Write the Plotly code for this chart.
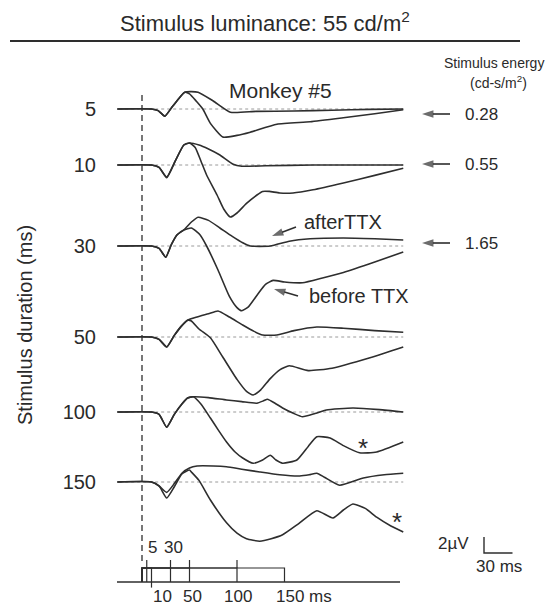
import plotly.graph_objects as go

# ---------------- data ----------------
DURATIONS_MS = [5, 10, 30, 50, 100, 150]
ENERGY_LABELS = ["0.28", "0.55", "1.65"]   # cd-s/m2 for 5, 10, 30 ms

# row 5 ms
T5_AFTER = [-26, 10, 17, 24, 32, 45, 59, 75, 93, 120, 160, 200, 240, 275]
V5_AFTER = [0, 0, -0.2, -0.9, 0.3, 2.1, 2.1, 1.0, -0.4, -0.3, -0.25, -0.15, -0.05, 0]
T5_BEFORE = [-26, 10, 17, 24, 32, 45, 50, 57, 64, 72, 85, 100, 114, 142, 177, 212, 245, 275]
V5_BEFORE = [0, 0, -0.2, -0.9, 0.3, 2.1, 1.9, 1.0, 0.0, -1.8, -3.5, -3.3, -2.9, -1.9, -1.6, -1.1, -0.6, -0.1]

# row 10 ms
T10_AFTER = [-26, 10, 18, 26, 35, 44, 50, 60, 70, 82, 96, 105, 130, 180, 230, 275]
V10_AFTER = [0, 0, -0.3, -1.5, 0.5, 2.5, 2.75, 2.5, 2.0, 1.25, 0.1, -0.15, -0.1, 0, 0, 0]
T10_BEFORE = [-26, 10, 18, 26, 35, 44, 50, 56, 62, 68, 79, 86, 93, 100, 110, 121, 127, 134, 145, 159, 180, 212, 245, 275]
V10_BEFORE = [0, 0, -0.3, -1.6, 0.5, 2.5, 2.75, 2.2, 0.5, -1.25, -3.75, -5.5, -6.5, -6.0, -4.8, -3.75, -3.3, -3.3, -3.5, -3.5, -3.1, -2.25, -1.3, -0.4]

# row 30 ms
T30_AFTER = [-26, 10, 18, 25, 31, 37, 44, 52, 59, 70, 82, 95, 106, 114, 135, 155, 177, 212, 245, 275]
V30_AFTER = [0, 0, -0.3, -1.4, 0.2, 1.4, 2.0, 3.0, 3.6, 3.2, 2.25, 1.2, 0.4, 0, 0, 0.6, 0.9, 1.0, 0.9, 0.75]
T30_BEFORE = [-26, 10, 18, 25, 31, 37, 44, 52, 61, 68, 80, 92, 100, 105, 112, 122, 130, 138, 150, 169, 190, 212, 245, 275]
V30_BEFORE = [0, 0, -0.3, -1.4, 0.2, 1.4, 2.0, 2.25, 1.4, 0, -3.0, -6.3, -7.7, -8.1, -7.6, -6.0, -4.8, -4.3, -4.5, -4.6, -4.0, -3.3, -2.0, -0.75]

# row 50 ms
T50_AFTER = [-26, 10, 18, 26, 34, 41, 48, 58, 70, 80, 92, 106, 118, 127, 142, 160, 184, 212, 245, 275]
V50_AFTER = [0, 0, -0.3, -1.25, 0.2, 1.3, 2.1, 2.5, 2.9, 3.25, 2.5, 1.5, 0.7, 0.25, 0.25, 0.8, 1.25, 1.1, 0.8, 0.6]
T50_BEFORE = [-26, 10, 18, 26, 34, 41, 48, 52, 60, 72, 85, 100, 110, 117, 125, 135, 145, 155, 175, 200, 240, 275]
V50_BEFORE = [0, 0, -0.3, -1.25, 0.2, 1.3, 2.1, 2.0, 1.0, -0.1, -2.5, -5.3, -6.8, -7.25, -6.6, -5.2, -4.1, -3.6, -4.2, -3.9, -2.6, -1.25]

# row 100 ms
T100_AFTER = [-26, 10, 18, 26, 34, 42, 48, 54, 70, 89, 105, 121, 128, 132, 140, 148, 160, 169, 182, 194, 222, 250, 275]
V100_AFTER = [0, 0, -0.3, -1.9, -0.3, 1.0, 1.75, 1.9, 1.8, 1.5, 1.3, 1.1, 1.4, 1.6, 1.1, 0.5, -0.2, -0.6, -0.2, 0.25, 0.5, 0.3, 0]
T100_BEFORE = [-26, 10, 18, 26, 34, 42, 48, 54, 62, 72, 80, 89, 98, 106, 117, 127, 135, 141, 148, 163, 175, 184, 198, 212, 229, 247, 275]
V100_BEFORE = [0, 0, -0.3, -1.9, -0.3, 1.0, 1.75, 1.9, 1.0, -0.75, -2.2, -3.75, -5.0, -5.75, -6.4, -6.0, -5.4, -6.0, -6.4, -6.0, -4.3, -3.1, -3.25, -4.2, -5.1, -5.0, -3.75]

# row 150 ms
T150_AFTER = [-26, 10, 18, 26, 34, 42, 50, 58, 75, 89, 105, 124, 145, 166, 176, 184, 192, 208, 233, 255, 275]
V150_AFTER = [0, 0, -0.5, -1.3, -0.2, 1.1, 1.75, 2.0, 2.0, 1.9, 1.6, 1.25, 0.9, 0.75, 0.9, 1.1, 0.6, -0.4, 0.5, 0.9, 1.1]
T150_BEFORE = [-26, 10, 18, 26, 34, 42, 50, 52, 60, 72, 89, 100, 110, 124, 136, 148, 165, 184, 201, 212, 222, 235, 247, 262, 275]
V150_BEFORE = [0, 0, -0.5, -2.0, -0.6, 1.0, 1.5, 1.25, 0.2, -2.25, -5.1, -6.4, -7.1, -7.4, -7.1, -6.6, -5.2, -3.6, -4.5, -3.5, -2.75, -3.3, -4.4, -5.5, -6.25]

SCALE_UV = 2
SCALE_MS = 30

# ---------------- layout geometry ----------------
W, H = 547, 607
PX_PER_MS = 0.95
PX_PER_UV = 8.0
ONSET_PX = 142
AXIS_LEFT_PX = 117
ROW_BASE_PX = [109, 165, 246, 337, 412, 482]
STIM_BASE_PX, STIM_TOP_PX = 582, 568

FONT = "Liberation Sans, Arial, sans-serif"
INK = "#2e2e2e"
TXT = "#2a2a2a"


def uv_at(py):
    return -py / PX_PER_UV


def ms_at(px):
    return (px - ONSET_PX) / PX_PER_MS


def P(px, py):
    return px / W, 1 - py / H


offsets = [uv_at(p) for p in ROW_BASE_PX]
rows = [
    (T5_AFTER, V5_AFTER, T5_BEFORE, V5_BEFORE),
    (T10_AFTER, V10_AFTER, T10_BEFORE, V10_BEFORE),
    (T30_AFTER, V30_AFTER, T30_BEFORE, V30_BEFORE),
    (T50_AFTER, V50_AFTER, T50_BEFORE, V50_BEFORE),
    (T100_AFTER, V100_AFTER, T100_BEFORE, V100_BEFORE),
    (T150_AFTER, V150_AFTER, T150_BEFORE, V150_BEFORE),
]

fig = go.Figure()


def line(x, y, width=1.2, dash=None, color=INK, **kw):
    fig.add_trace(go.Scatter(x=x, y=y, mode="lines",
                             line=dict(color=color, width=width, dash=dash, **kw),
                             hoverinfo="skip", showlegend=False))


# dotted baselines
for off in offsets:
    line([-24, 275], [off, off], width=1, dash="dot", color="#9a9a9a")

# ERG traces (after TTX and before TTX)
for off, (ta, va, tb, vb) in zip(offsets, rows):
    for t, v in ((ta, va), (tb, vb)):
        line(t, [off + a for a in v], width=1.6, shape="spline", smoothing=0.5)

# stimulus onset dashed line
line([0, 0], [uv_at(95), uv_at(565)], width=1.3, dash="6px,4px")

# stimulus timing diagram
sb, st = uv_at(STIM_BASE_PX), uv_at(STIM_TOP_PX)
line([ms_at(AXIS_LEFT_PX), ms_at(400)], [sb, sb], width=1.4)
for d in DURATIONS_MS:
    line([0, 0, d, d], [sb, st, st, sb])
for d in (5, 30, 50, 100):
    line([d, d], [st, st + 1.0])
line([10, 10], [sb, sb - 0.7])

# scale bar
sx, sy = ms_at(484), uv_at(553)
line([sx, sx, sx + SCALE_MS], [sy + SCALE_UV, sy, sy], width=1.4)


# arrows (line + arrow-head marker oriented along the segment)
def arrow(hx, hy, tx, ty):
    fig.add_trace(go.Scatter(x=[ms_at(tx), ms_at(hx)], y=[uv_at(ty), uv_at(hy)],
                             mode="lines+markers",
                             line=dict(color=INK, width=1.6),
                             marker=dict(symbol="arrow", angleref="previous", size=[0, 12],
                                         color=INK, line=dict(width=0)),
                             hoverinfo="skip", showlegend=False))


ann = []


def text(s, px, py, size, xanchor="center", yanchor="middle"):
    x, y = P(px, py)
    ann.append(dict(text=s, x=x, y=y, xref="paper", yref="paper", showarrow=False,
                    xanchor=xanchor, yanchor=yanchor, font=dict(size=size, color=TXT, family=FONT)))


text("Stimulus luminance: 55 cd/m<sup>2</sup>", 265, 22, 22)
text("Stimulus energy", 494, 63, 14)
text("(cd-s/m<sup>2</sup>)", 498, 82, 14)
text("Monkey #5", 280, 90, 21)
text("Stimulus duration (ms)", 25, 325, 20)
ann[-1]["textangle"] = -90

for lab, py in zip(ENERGY_LABELS, [114, 164, 243]):
    arrow(422, py, 450, py)
    text(lab, 463, py, 17, xanchor="left")

text("afterTTX", 302, 222, 20, xanchor="left")
arrow(272, 236, 296, 227)
text("before TTX", 307, 296, 20, xanchor="left")
arrow(274, 289, 298, 296)

text("*", 363, 448, 26)
text("*", 397, 522, 26)

text("2µV", 453, 543, 17)
text("30 ms", 499, 566, 17)

text("5", 152, 547, 17)
text("30", 173, 547, 17)
text("10", 162, 596, 17)
text("50", 192, 596, 17)
text("100", 238, 596, 17)
text("150 ms", 274, 596, 17, xanchor="left")

fig.update_layout(
    width=W, height=H,
    margin=dict(l=0, r=0, t=0, b=0),
    paper_bgcolor="white", plot_bgcolor="white",
    annotations=ann,
    shapes=[dict(type="line", xref="paper", yref="paper",
                 x0=10 / W, x1=520 / W, y0=1 - 41 / H, y1=1 - 41 / H,
                 line=dict(color=INK, width=2))],
    xaxis=dict(domain=[AXIS_LEFT_PX / W, 1], range=[ms_at(AXIS_LEFT_PX), ms_at(W)],
               showgrid=False, zeroline=False, showline=False, showticklabels=False, ticks=""),
    yaxis=dict(range=[uv_at(H), 0], showgrid=False, zeroline=False, showline=False,
               tickmode="array", tickvals=offsets, ticktext=[str(d) for d in DURATIONS_MS],
               ticks="", ticklabelstandoff=20,
               tickfont=dict(size=20, color=TXT, family=FONT)),
)

fig.write_html("out.html")
